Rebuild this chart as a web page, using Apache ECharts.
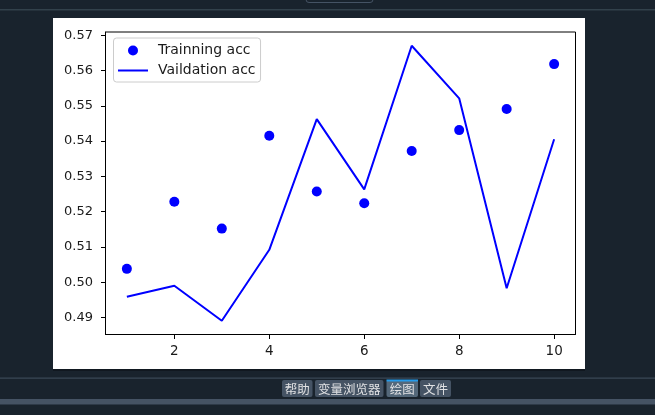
<!DOCTYPE html>
<html><head><meta charset="utf-8">
<script src="https://cdn.jsdelivr.net/npm/echarts@6/dist/echarts.min.js"></script>
<style>html,body{margin:0;padding:0;background:#19232D;overflow:hidden}#c{width:655px;height:415px;}</style>
</head><body><div id="c"></div>
<script>
// ---- data ----
const epochs = [1, 2, 3, 4, 5, 6, 7, 8, 9, 10];
const trainAcc = [0.5038, 0.5228, 0.5152, 0.5415, 0.5257, 0.5224, 0.5372, 0.5431, 0.5491, 0.5618];
const valAcc = [0.4959, 0.4990, 0.4891, 0.5092, 0.5462, 0.5263, 0.5670, 0.5521, 0.4983, 0.5405];
const xTicks = [2, 4, 6, 8, 10];
const yTicks = [0.49, 0.50, 0.51, 0.52, 0.53, 0.54, 0.55, 0.56, 0.57];
const seriesNames = ['Trainning acc', 'Vaildation acc'];
const tabLabels = ['帮助', '变量浏览器', '绘图', '文件'];

// matplotlib-style 5% autoscale margins
const allY = trainAcc.concat(valAcc);
const yLo = Math.min(...allY), yHi = Math.max(...allY);
const yPad = (yHi - yLo) * 0.05;
const xLo = Math.min(...epochs), xHi = Math.max(...epochs);
const xPad = (xHi - xLo) * 0.05;

const FONT = 'DejaVu Sans';
const chart = echarts.init(document.getElementById('c'), null, {renderer: 'canvas'});

// Spyder chrome (decoration)
const tabBoxes = [[282, 30.5], [315, 68.5], [386.5, 31.5], [420, 31]];
const chrome = [
  {type: 'rect', shape: {x: 0, y: 0, width: 655, height: 415}, style: {fill: '#19232D'}, z: -10},
  {type: 'rect', shape: {x: 306, y: -10, width: 67, height: 12.5, r: 3}, style: {fill: 'none', stroke: '#455364', lineWidth: 1}, z: -9},
  {type: 'rect', shape: {x: 0, y: 9, width: 655, height: 1.5}, style: {fill: '#32414B'}, z: -9},
  {type: 'rect', shape: {x: 53, y: 18, width: 532, height: 351}, style: {fill: '#ffffff'}, z: -9},
  {type: 'rect', shape: {x: 53, y: 369, width: 532, height: 2}, style: {fill: '#111820'}, z: -9},
  {type: 'rect', shape: {x: 0, y: 377.5, width: 655, height: 1.2}, style: {fill: '#3a4856'}, z: -9},
  {type: 'rect', shape: {x: 0, y: 399, width: 655, height: 5.5}, style: {fill: '#455364'}, z: -9}
];
tabLabels.forEach((t, i) => {
  const [x, w] = tabBoxes[i];
  const sel = i === 2;
  chrome.push({type: 'rect', shape: {x: x, y: 380, width: w, height: 17, r: 2}, style: {fill: sel ? '#54687A' : '#455364'}, z: -8});
  if (sel) chrome.push({type: 'rect', shape: {x: x, y: 379.5, width: w, height: 2}, style: {fill: '#259AE9'}, z: -7});
  chrome.push({type: 'text', x: x + w / 2, y: 389, style: {text: t, fill: '#E0E1E3', font: '12.5px "Noto Sans CJK SC"', align: 'center', verticalAlign: 'middle'}, z: -7});
});

chart.setOption({
  animation: false,
  backgroundColor: '#19232D',
  graphic: chrome,
  grid: {left: 105.5, right: 79.5, top: 32, bottom: 80.5, show: true, backgroundColor: '#ffffff', borderColor: '#000000', borderWidth: 1},
  legend: {
    orient: 'vertical', left: 113.5, top: 38,
    data: [
      {name: seriesNames[0], icon: 'circle'},
      {name: seriesNames[1], icon: 'path://M0,0H30V2H0Z'}
    ],
    symbolKeepAspect: true,
    itemWidth: 30, itemHeight: 10, itemGap: 6,
    padding: [5.5, 5, 4.5, 4.5],
    backgroundColor: 'rgba(255,255,255,0.8)', borderColor: '#cccccc', borderWidth: 1, borderRadius: 3,
    textStyle: {color: '#1a1a1a', fontFamily: FONT, fontSize: 14, lineHeight: 14, padding: [0, 0, 0, 5]}
  },
  xAxis: {
    type: 'value', min: xLo - xPad, max: xHi + xPad,
    axisLine: {show: true, lineStyle: {color: '#000', width: 1}},
    axisTick: {show: true, length: 4.5, customValues: xTicks, lineStyle: {color: '#000', width: 1}},
    axisLabel: {customValues: xTicks, margin: 10, color: '#1a1a1a', fontFamily: FONT, fontSize: 13.5},
    splitLine: {show: false}
  },
  yAxis: {
    type: 'value', min: yLo - yPad, max: yHi + yPad,
    axisLine: {show: true, lineStyle: {color: '#000', width: 1}},
    axisTick: {show: true, length: 4.5, customValues: yTicks, lineStyle: {color: '#000', width: 1}},
    axisLabel: {customValues: yTicks, margin: 12.5, color: '#1a1a1a', fontFamily: FONT, fontSize: 13, formatter: v => v.toFixed(2)},
    splitLine: {show: false}
  },
  series: [
    {name: seriesNames[0], type: 'scatter', data: epochs.map((e, i) => [e, trainAcc[i]]), symbol: 'circle', symbolSize: 10, itemStyle: {color: '#0000ff', opacity: 1}},
    {name: seriesNames[1], type: 'line', data: epochs.map((e, i) => [e, valAcc[i]]), symbol: 'none', lineStyle: {color: '#0000ff', width: 2}, itemStyle: {color: '#0000ff'}}
  ]
});
</script></body></html>
